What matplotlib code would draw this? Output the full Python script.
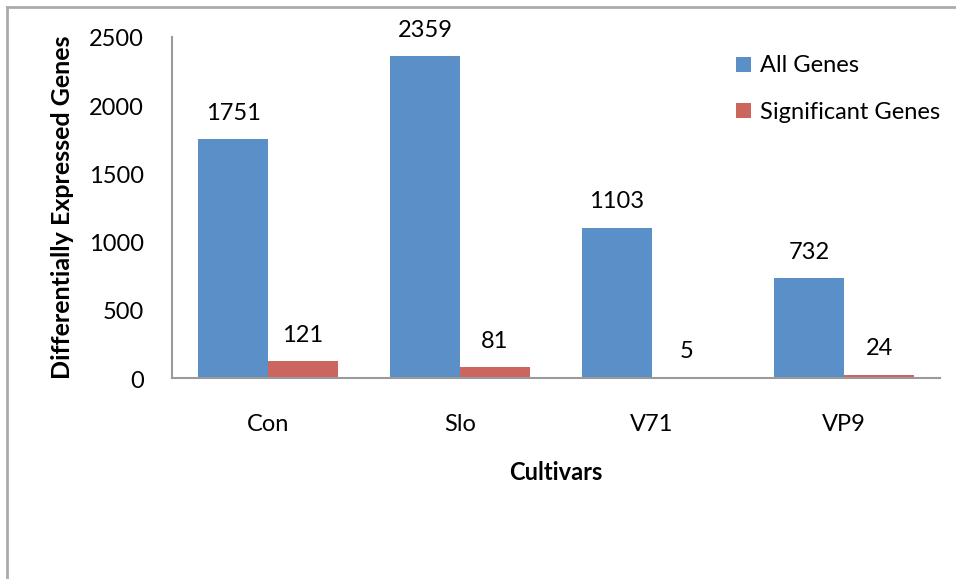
import matplotlib
matplotlib.use("Agg")
import matplotlib.pyplot as plt
import matplotlib.transforms as mtransforms
from matplotlib.lines import Line2D
import numpy as np

plt.rcParams['font.family'] = ['Lato', 'DejaVu Sans']

cultivars = ["Con", "Slo", "V71", "VP9"]
all_genes = [1751, 2359, 1103, 732]
significant_genes = [121, 81, 5, 24]
series_names = ["All Genes", "Significant Genes"]
y_ticks = [0, 500, 1000, 1500, 2000, 2500]

blue = "#5B8FC7"
red = "#CC655E"
axis_gray = "#9A9A9A"
FS = 17

W, H = 956, 579
fig = plt.figure(figsize=(W / 100, H / 100), dpi=100)
fig.patch.set_facecolor("white")

ax = fig.add_axes([172 / W, 1 - 378 / H, (940 - 172) / W, (378 - 37) / H])

x = np.arange(len(cultivars))
bw = 0.365
b1 = ax.bar(x - bw / 2, all_genes, bw, color=blue, label=series_names[0])
b2 = ax.bar(x + bw / 2, significant_genes, bw, color=red, label=series_names[1])

for bars, vals in ((b1, all_genes), (b2, significant_genes)):
    for rect, v in zip(bars, vals):
        ax.annotate(str(v), (rect.get_x() + rect.get_width() / 2, v),
                    xytext=(0, 11), textcoords="offset points",
                    ha="center", va="bottom", fontsize=FS, color="black")

ax.set_xlim(-0.5, len(cultivars) - 0.5)
ax.set_ylim(0, 2500)
ax.set_yticks(y_ticks)
ax.set_xticks(x)
ax.set_xticklabels(cultivars)
ax.tick_params(axis="both", length=0, labelsize=FS, colors="black")
ax.tick_params(axis="y", pad=20)
ax.tick_params(axis="x", pad=26)

# nudge the value-axis labels slightly downward
shift = mtransforms.ScaledTranslation(0, -0.03, fig.dpi_scale_trans)
for lbl in ax.get_yticklabels():
    lbl.set_verticalalignment("center")
    lbl.set_transform(lbl.get_transform() + shift)

for s in ("top", "right"):
    ax.spines[s].set_visible(False)
for s in ("left", "bottom"):
    ax.spines[s].set_color(axis_gray)
    ax.spines[s].set_linewidth(1.5)

ax.set_ylabel("Differentially Expressed Genes", fontsize=18, fontweight="bold", labelpad=11)
ax.set_xlabel("Cultivars", fontsize=FS, fontweight="bold", labelpad=19)

leg = ax.legend(loc="upper left", bbox_to_anchor=(727 / W, 1 - 46 / H),
                bbox_transform=fig.transFigure, frameon=False, fontsize=FS,
                handlelength=0.6, handleheight=0.6, handletextpad=0.4,
                labelspacing=1.08, borderaxespad=0)

# outer frame lines on the top and left edges
fig.add_artist(Line2D([7 / W, 7 / W], [0, 1 - 7 / H], color="#ABABAB", lw=2,
                      transform=fig.transFigure))
fig.add_artist(Line2D([7 / W, 1], [1 - 7 / H, 1 - 7 / H], color="#ABABAB", lw=2,
                      transform=fig.transFigure))

fig.savefig("out.png", dpi=100)
